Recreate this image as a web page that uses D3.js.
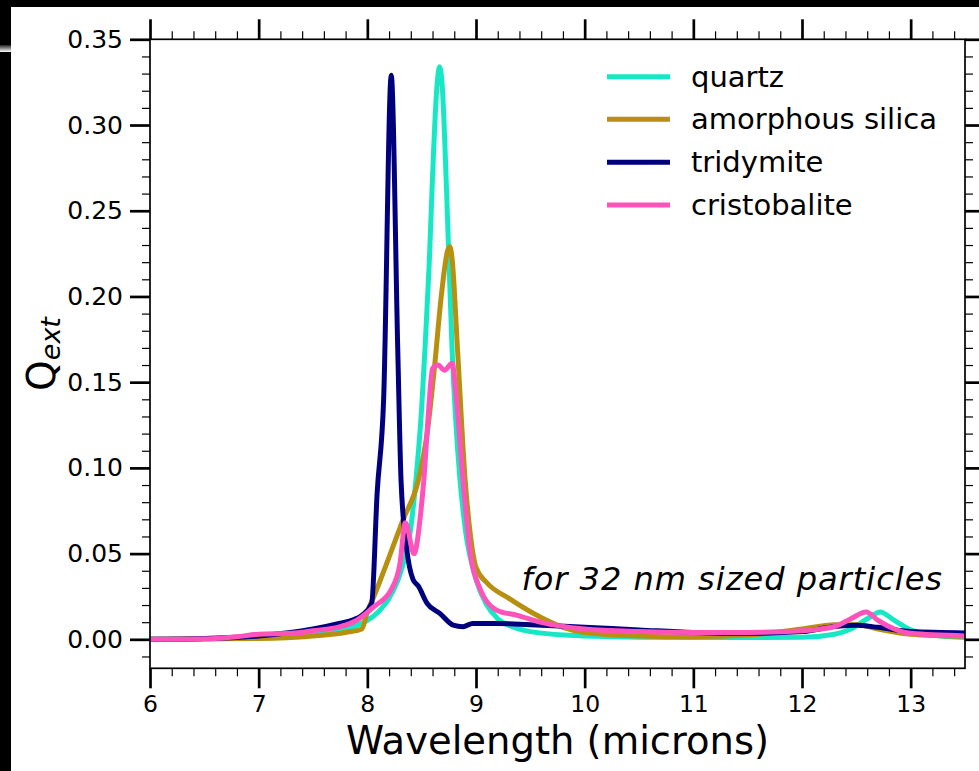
<!DOCTYPE html>
<html><head><meta charset="utf-8">
<script src="https://cdn.jsdelivr.net/npm/d3@7"></script>
<style>body{margin:0;background:#fff}svg{display:block}text{font-family:"DejaVu Sans",sans-serif}</style>
</head><body><svg id="c" width="979" height="771"></svg>
<script>
const seriesNames = ["quartz", "amorphous silica", "tridymite", "cristobalite"];
const seriesColors = ["#16e8c6", "#b8900f", "#00007f", "#ff52bb"];
const quartz = [[6,0],[6.5,0.0003],[7,0.001],[7.5,0.003],[7.7,0.005],[7.9,0.008],[8.0,0.011],[8.1,0.016],[8.2,0.024],[8.3,0.038],[8.4,0.065],[8.45,0.095],[8.5,0.135],[8.53,0.169],[8.57,0.22],[8.6,0.27],[8.64,0.322],[8.665,0.334],[8.69,0.322],[8.73,0.26],[8.78,0.169],[8.85,0.095],[8.9,0.065],[9.0,0.035],[9.1,0.02],[9.2,0.012],[9.35,0.007],[9.5,0.0045],[10,0.002],[11,0.001],[12,0.0012],[12.3,0.003],[12.45,0.006],[12.6,0.012],[12.72,0.016],[12.85,0.011],[13.0,0.0055],[13.2,0.0025],[13.5,0.001]];
const amorphous = [[6,0],[7,0.0005],[7.5,0.002],[7.8,0.004],[7.95,0.006],[8.0,0.016],[8.06,0.025],[8.2,0.048],[8.33,0.07],[8.47,0.093],[8.55,0.12],[8.62,0.16],[8.68,0.2],[8.74,0.227],[8.76,0.229],[8.78,0.222],[8.83,0.169],[8.9,0.093],[8.95,0.06],[9.0,0.042],[9.1,0.033],[9.3,0.024],[9.59,0.013],[9.8,0.007],[10.0,0.004],[10.5,0.002],[11,0.0015],[11.5,0.0025],[12,0.006],[12.3,0.0085],[12.5,0.0085],[12.7,0.006],[13,0.003],[13.5,0.0018]];
const tridymite = [[6,0],[6.5,0.0005],[7,0.002],[7.5,0.006],[7.75,0.0094],[7.87,0.0114],[7.95,0.014],[8.04,0.021],[8.09,0.085],[8.15,0.14],[8.22,0.329],[8.28,0.169],[8.31,0.093],[8.36,0.054],[8.42,0.035],[8.47,0.031],[8.55,0.021],[8.67,0.015],[8.79,0.0083],[8.88,0.0074],[8.97,0.0093],[9.2,0.0093],[9.5,0.0085],[10,0.007],[10.5,0.0055],[11,0.004],[11.5,0.0035],[12,0.0045],[12.3,0.0075],[12.5,0.0082],[12.7,0.007],[13,0.0045],[13.5,0.0037]];
const cristobalite = [[6,0],[6.6,0.0005],[6.8,0.0015],[7.0,0.003],[7.3,0.0035],[7.5,0.005],[7.75,0.0074],[7.9,0.011],[8.06,0.019],[8.22,0.029],[8.3,0.044],[8.35,0.068],[8.43,0.05],[8.49,0.073],[8.52,0.093],[8.56,0.13],[8.6,0.158],[8.65,0.16],[8.71,0.157],[8.78,0.161],[8.82,0.14],[8.88,0.093],[8.94,0.054],[9.04,0.029],[9.19,0.017],[9.38,0.014],[9.59,0.01],[10,0.006],[10.5,0.0045],[11,0.004],[11.5,0.004],[12,0.005],[12.3,0.0075],[12.45,0.012],[12.59,0.016],[12.7,0.011],[12.85,0.006],[13,0.0035],[13.5,0.002]];
const xTicks = [6,7,8,9,10,11,12,13];
const yTicks = [0,0.05,0.10,0.15,0.20,0.25,0.30,0.35];
const xLabel = "Wavelength (microns)";
const annotation = "for 32 nm sized particles";

const svg = d3.select("#c");
const L=150,R=965,T=39.3,B=668.3;
const x = d3.scaleLinear().domain([6,13.5]).range([L,R]);
const y = d3.scaleLinear().domain([-0.0169,0.35]).range([B,T]);

// frame
svg.append("rect").attr("x",0).attr("y",0).attr("width",979).attr("height",7).attr("fill","#000");
svg.append("rect").attr("x",0).attr("y",0).attr("width",11).attr("height",771).attr("fill","#000");
const gr = svg.append("defs").append("linearGradient").attr("id","g1").attr("x1",0).attr("x2",0).attr("y1",0).attr("y2",1);
gr.append("stop").attr("offset","0").attr("stop-color","#222");
gr.append("stop").attr("offset","1").attr("stop-color","#fff");
svg.append("rect").attr("x",0).attr("y",45).attr("width",11).attr("height",7).attr("fill","url(#g1)");

const data = [quartz, amorphous, tridymite, cristobalite];
const line = d3.line().x(d=>x(d[0])).y(d=>y(d[1])).curve(d3.curveMonotoneX);
const plot = svg.append("g");
plot.append("clipPath").attr("id","cp").append("rect").attr("x",L).attr("y",T).attr("width",R-L).attr("height",B-T);
const lg = plot.append("g").attr("clip-path","url(#cp)");
data.forEach((d,i)=>{
  lg.append("path").datum(d).attr("d",line).attr("fill","none").attr("stroke",seriesColors[i]).attr("stroke-width",5).attr("stroke-linejoin","round").attr("stroke-linecap","round");
});

// axes
const xMinor = d3.range(6,13.5001,0.2).filter(v=>Math.abs(v-Math.round(v))>1e-6);
const yMinor = d3.range(-0.01,0.35001,0.01).filter(v=>Math.abs(v*20-Math.round(v*20))>1e-6);
function styleAx(g){ g.select(".domain").remove(); g.selectAll("line").attr("stroke","#000"); }
const bx = svg.append("g").attr("transform",`translate(0,${B})`).call(d3.axisBottom(x).tickValues(xTicks).tickSize(20).tickPadding(7).tickFormat(d3.format("d")));
styleAx(bx); bx.selectAll("line").attr("stroke-width",2.7); bx.selectAll("text").attr("font-size",23.5).attr("font-family","DejaVu Sans");
const bxm = svg.append("g").attr("transform",`translate(0,${B})`).call(d3.axisBottom(x).tickValues(xMinor).tickSize(8).tickFormat(""));
styleAx(bxm); bxm.selectAll("line").attr("stroke-width",1.2);
const tx = svg.append("g").attr("transform",`translate(0,${T})`).call(d3.axisTop(x).tickValues(xTicks).tickSize(20).tickFormat(""));
styleAx(tx); tx.selectAll("line").attr("stroke-width",2.7);
const txm = svg.append("g").attr("transform",`translate(0,${T})`).call(d3.axisTop(x).tickValues(xMinor).tickSize(8).tickFormat(""));
styleAx(txm); txm.selectAll("line").attr("stroke-width",1.2);
const ly = svg.append("g").attr("transform",`translate(${L},0)`).call(d3.axisLeft(y).tickValues(yTicks).tickSize(20).tickPadding(7).tickFormat(d3.format(".2f")));
styleAx(ly); ly.selectAll("line").attr("stroke-width",2.7); ly.selectAll("text").attr("font-size",25).attr("font-family","DejaVu Sans");
const lym = svg.append("g").attr("transform",`translate(${L},0)`).call(d3.axisLeft(y).tickValues(yMinor).tickSize(8).tickFormat(""));
styleAx(lym); lym.selectAll("line").attr("stroke-width",1.2);
const ry = svg.append("g").attr("transform",`translate(${R},0)`).call(d3.axisRight(y).tickValues(yTicks).tickSize(20).tickFormat(""));
styleAx(ry); ry.selectAll("line").attr("stroke-width",2.7);
const rym = svg.append("g").attr("transform",`translate(${R},0)`).call(d3.axisRight(y).tickValues(yMinor).tickSize(8).tickFormat(""));
styleAx(rym); rym.selectAll("line").attr("stroke-width",1.2);
svg.append("rect").attr("x",L).attr("y",T).attr("width",R-L).attr("height",B-T).attr("fill","none").attr("stroke","#000").attr("stroke-width",1.7);

// labels
svg.append("text").attr("x",(L+R)/2).attr("y",754).attr("text-anchor","middle").attr("font-size",38.5).text(xLabel);
const yl = svg.append("text").attr("transform","translate(55,354) rotate(-90)").attr("text-anchor","middle").attr("font-size",39);
yl.append("tspan").text("Q");
yl.append("tspan").attr("font-size",27).attr("font-style","italic").attr("dy",5).text("ext");

// legend
const legY=[76.7,119.3,162.3,205];
seriesNames.forEach((n,i)=>{
  svg.append("line").attr("x1",607).attr("x2",670).attr("y1",legY[i]).attr("y2",legY[i]).attr("stroke",seriesColors[i]).attr("stroke-width",5);
  svg.append("text").attr("x",691).attr("y",legY[i]+10).attr("font-size",29).text(n);
});

svg.append("text").attr("x",943).attr("y",590).attr("text-anchor","end").attr("font-size",32).attr("font-style","italic").attr("font-family","Lato").attr("letter-spacing",1).text(annotation);
</script></body></html>
